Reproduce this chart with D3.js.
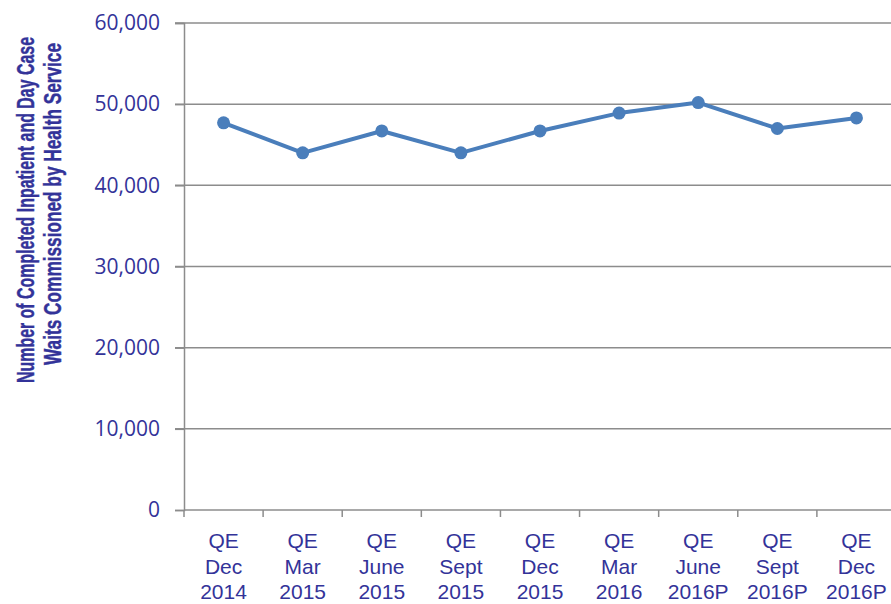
<!DOCTYPE html>
<html>
<head>
<meta charset="utf-8">
<script src="https://cdn.jsdelivr.net/npm/d3@7"></script>
<style>
  body { margin: 0; background: #fff; }
  svg { display: block; font-family: "Liberation Sans", Arial, sans-serif; }
</style>
</head>
<body>
<div id="chart"></div>
<script>
const FRAME_WIDTH = 891;
const FRAME_HEIGHT = 604;
const MARGINS = {left: 184, right: -5, top: 23, bottom: 94};
const VIS_WIDTH = FRAME_WIDTH - MARGINS.left - MARGINS.right;
const VIS_HEIGHT = FRAME_HEIGHT - MARGINS.top - MARGINS.bottom;

// data
const QUARTERS = ["QE|Dec|2014", "QE|Mar|2015", "QE|June|2015", "QE|Sept|2015",
                  "QE|Dec|2015", "QE|Mar|2016", "QE|June|2016P", "QE|Sept|2016P",
                  "QE|Dec|2016P"];
const WAITS = [47700, 44000, 46700, 44000, 46700, 48900, 50200, 47000, 48300];
const Y_TICKS = [0, 10000, 20000, 30000, 40000, 50000, 60000];
const Y_TITLE = ["Number of Completed Inpatient and Day Case",
                 "Waits Commissioned by Health Service"];

const TEXT_COLOR = "#333399";
const LINE_COLOR = "#4A7EBB";
const GRID_COLOR = "#8c8c8c";

const FRAME = d3.select("#chart")
  .append("svg")
    .attr("width", FRAME_WIDTH)
    .attr("height", FRAME_HEIGHT);

const X_SCALE = d3.scaleBand()
  .domain(QUARTERS)
  .range([0, VIS_WIDTH]);

const Y_SCALE = d3.scaleLinear()
  .domain([0, 60000])
  .range([VIS_HEIGHT, 0]);

const plot = FRAME.append("g")
  .attr("transform", "translate(" + MARGINS.left + "," + MARGINS.top + ")");

// horizontal gridlines (with short tick stubs to the left)
plot.append("g")
  .selectAll("line")
  .data(Y_TICKS.filter(d => d > 0))
  .enter()
  .append("line")
    .attr("x1", -9)
    .attr("x2", VIS_WIDTH)
    .attr("y1", d => Y_SCALE(d))
    .attr("y2", d => Y_SCALE(d))
    .attr("stroke", GRID_COLOR)
    .attr("stroke-width", 1.5);

// y axis
const yAxis = plot.append("g")
  .call(d3.axisLeft(Y_SCALE).tickValues(Y_TICKS).tickSize(9).tickPadding(15)
          .tickFormat(d3.format(",")));
yAxis.select(".domain").attr("stroke", GRID_COLOR).attr("stroke-width", 1.5);
yAxis.selectAll(".tick line").attr("stroke", GRID_COLOR).attr("stroke-width", 1.5);
yAxis.selectAll(".tick text")
  .attr("fill", TEXT_COLOR)
  .attr("font-size", "21px")
  .attr("font-family", "'Open Sans', 'Noto Sans', sans-serif");

// x axis: ticks on band boundaries
const xAxisG = plot.append("g")
  .attr("transform", "translate(0," + VIS_HEIGHT + ")");
xAxisG.append("line")
  .attr("x1", 0).attr("x2", VIS_WIDTH)
  .attr("stroke", GRID_COLOR).attr("stroke-width", 1.5);
xAxisG.selectAll(".xtick")
  .data(QUARTERS)
  .enter()
  .append("line")
    .attr("class", "xtick")
    .attr("x1", d => X_SCALE(d))
    .attr("x2", d => X_SCALE(d))
    .attr("y1", 0).attr("y2", 7)
    .attr("stroke", GRID_COLOR).attr("stroke-width", 1.5);

// x labels, three lines each
const xLabels = xAxisG.selectAll(".xlabel")
  .data(QUARTERS)
  .enter()
  .append("text")
    .attr("class", "xlabel")
    .attr("x", d => X_SCALE(d) + X_SCALE.bandwidth() / 2)
    .attr("text-anchor", "middle")
    .attr("fill", TEXT_COLOR)
    .attr("font-size", "21px");
xLabels.selectAll("tspan")
  .data(d => d.split("|"))
  .enter()
  .append("tspan")
    .attr("x", function() { return d3.select(this.parentNode).attr("x"); })
    .attr("y", (d, i) => 38 + i * 25.5)
    .text(d => d);

// line
const line = d3.line()
  .x((d, i) => X_SCALE(QUARTERS[i]) + X_SCALE.bandwidth() / 2)
  .y(d => Y_SCALE(d));

plot.append("path")
  .datum(WAITS)
  .attr("d", line)
  .attr("fill", "none")
  .attr("stroke", LINE_COLOR)
  .attr("stroke-width", 4)
  .attr("stroke-linejoin", "round");

plot.selectAll(".point")
  .data(WAITS)
  .enter()
  .append("circle")
    .attr("class", "point")
    .attr("cx", (d, i) => X_SCALE(QUARTERS[i]) + X_SCALE.bandwidth() / 2)
    .attr("cy", d => Y_SCALE(d))
    .attr("r", 6.5)
    .attr("fill", LINE_COLOR);

// y axis title: tall, narrow glyphs like the original
const TITLE_POS = [{x: 34, c: 210, len: 346}, {x: 61, c: 204, len: 322}];
FRAME.selectAll(".ytitle")
  .data(Y_TITLE)
  .enter()
  .append("text")
    .attr("class", "ytitle")
    .attr("transform", (d, i) => "translate(" + TITLE_POS[i].x + "," + TITLE_POS[i].c + ") rotate(-90) scale(1,1.4)")
    .attr("x", (d, i) => -TITLE_POS[i].len / 2)
    .attr("y", 0)
    .attr("textLength", (d, i) => TITLE_POS[i].len)
    .attr("lengthAdjust", "spacingAndGlyphs")
    .attr("fill", TEXT_COLOR)
    .attr("stroke", TEXT_COLOR)
    .attr("stroke-width", 0.3)
    .attr("font-size", "16.5px")
    .attr("font-weight", "bold")
    .text(d => d);
</script>
</body>
</html>
